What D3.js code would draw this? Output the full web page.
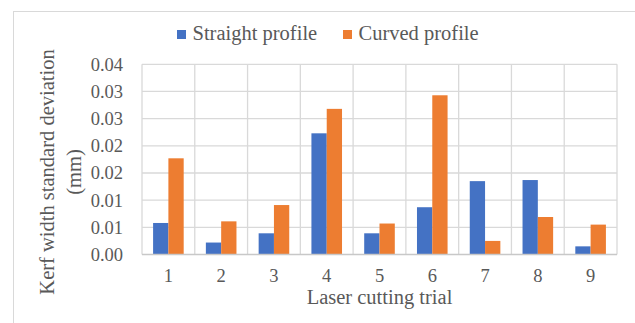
<!DOCTYPE html>
<html>
<head>
<meta charset="utf-8">
<script src="https://cdn.jsdelivr.net/npm/d3@7"></script>
<style>
  body { margin: 0; background: #fff; }
  text { font-family: "Liberation Serif", "Times New Roman", serif; fill: #595959; }
</style>
</head>
<body>
<div id="chart"></div>
<script>
// data
const trials = ["1", "2", "3", "4", "5", "6", "7", "8", "9"];
const seriesNames = ["Straight profile", "Curved profile"];
const straight = [0.0058, 0.0022, 0.0039, 0.0223, 0.0039, 0.0087, 0.0135, 0.0137, 0.0015];
const curved = [0.0177, 0.0061, 0.0091, 0.0268, 0.0057, 0.0293, 0.0025, 0.0069, 0.0055];
const yTicks = [0, 0.005, 0.01, 0.015, 0.02, 0.025, 0.03, 0.035];
const yTickLabels = ["0.00", "0.01", "0.01", "0.02", "0.02", "0.03", "0.03", "0.04"];
const colors = ["#4472C4", "#ED7D31"];

const width = 635, height = 323;
const plot = { left: 142, right: 617, top: 64.3, bottom: 254.5 };

const svg = d3.select("#chart").append("svg")
    .attr("width", width)
    .attr("height", height);

// outer chart border
svg.append("rect")
    .attr("x", 13.5).attr("y", 11.5)
    .attr("width", 700).attr("height", 400)
    .attr("fill", "none")
    .attr("stroke", "#d9d9d9");

const x0 = d3.scaleBand().domain(trials).range([plot.left, plot.right]);
const x1 = d3.scaleBand().domain(seriesNames).range([0, x0.bandwidth()])
    .paddingInner(0).paddingOuter(0.725);
const y = d3.scaleLinear().domain([0, 0.035]).range([plot.bottom, plot.top]);

// horizontal gridlines
svg.append("g")
    .selectAll("line")
    .data(yTicks.slice(1))
    .enter().append("line")
    .attr("x1", plot.left).attr("x2", plot.right)
    .attr("y1", d => y(d)).attr("y2", d => y(d))
    .attr("stroke", "#d9d9d9").attr("stroke-width", 1.3);

// vertical gridlines at category boundaries
const bounds = trials.map(t => x0(t)).concat([plot.right]);
svg.append("g")
    .selectAll("line")
    .data(bounds)
    .enter().append("line")
    .attr("x1", d => d).attr("x2", d => d)
    .attr("y1", plot.top).attr("y2", plot.bottom)
    .attr("stroke", "#d9d9d9").attr("stroke-width", 1.3);

// bars
const rows = trials.map((t, i) => ({ trial: t, values: [straight[i], curved[i]] }));
const groups = svg.append("g").selectAll("g")
    .data(rows)
    .enter().append("g")
    .attr("transform", d => `translate(${x0(d.trial)},0)`);

groups.selectAll("rect")
    .data(d => d.values.map((v, j) => ({ name: seriesNames[j], value: v, idx: j })))
    .enter().append("rect")
    .attr("x", d => x1(d.name))
    .attr("y", d => y(d.value))
    .attr("width", x1.bandwidth())
    .attr("height", d => y(0) - y(d.value))
    .attr("fill", d => colors[d.idx]);

// baseline
svg.append("line")
    .attr("x1", plot.left).attr("x2", plot.right)
    .attr("y1", y(0)).attr("y2", y(0))
    .attr("stroke", "#c8c8c8").attr("stroke-width", 1.5);

// y tick labels
svg.append("g")
    .selectAll("text")
    .data(yTicks)
    .enter().append("text")
    .attr("x", 123)
    .attr("y", d => y(d))
    .attr("dy", "0.35em")
    .attr("text-anchor", "end")
    .attr("font-size", "18.5px")
    .text((d, i) => yTickLabels[i]);

// x tick labels
svg.append("g")
    .selectAll("text")
    .data(trials)
    .enter().append("text")
    .attr("x", d => x0(d) + x0.bandwidth() / 2)
    .attr("y", 282)
    .attr("text-anchor", "middle")
    .attr("font-size", "18.5px")
    .text(d => d);

// axis titles
svg.append("text")
    .attr("x", (plot.left + plot.right) / 2)
    .attr("y", 304)
    .attr("text-anchor", "middle")
    .attr("font-size", "20.5px")
    .text("Laser cutting trial");

const yTitle = svg.append("text")
    .attr("transform", "translate(54,172) rotate(-90)")
    .attr("text-anchor", "middle")
    .attr("font-size", "20.5px");
yTitle.append("tspan").attr("x", 0).attr("y", 0).text("Kerf width standard deviation");
yTitle.append("tspan").attr("x", 0).attr("y", 27).text("(mm)");

// legend
const legendX = [177, 343];
const legend = svg.append("g").selectAll("g")
    .data(seriesNames)
    .enter().append("g")
    .attr("transform", (d, i) => `translate(${legendX[i]},30)`);
legend.append("rect")
    .attr("width", 9).attr("height", 9)
    .attr("fill", (d, i) => colors[i]);
legend.append("text")
    .attr("x", 15.5).attr("y", 10)
    .attr("font-size", "20.5px")
    .text(d => d);
</script>
</body>
</html>
